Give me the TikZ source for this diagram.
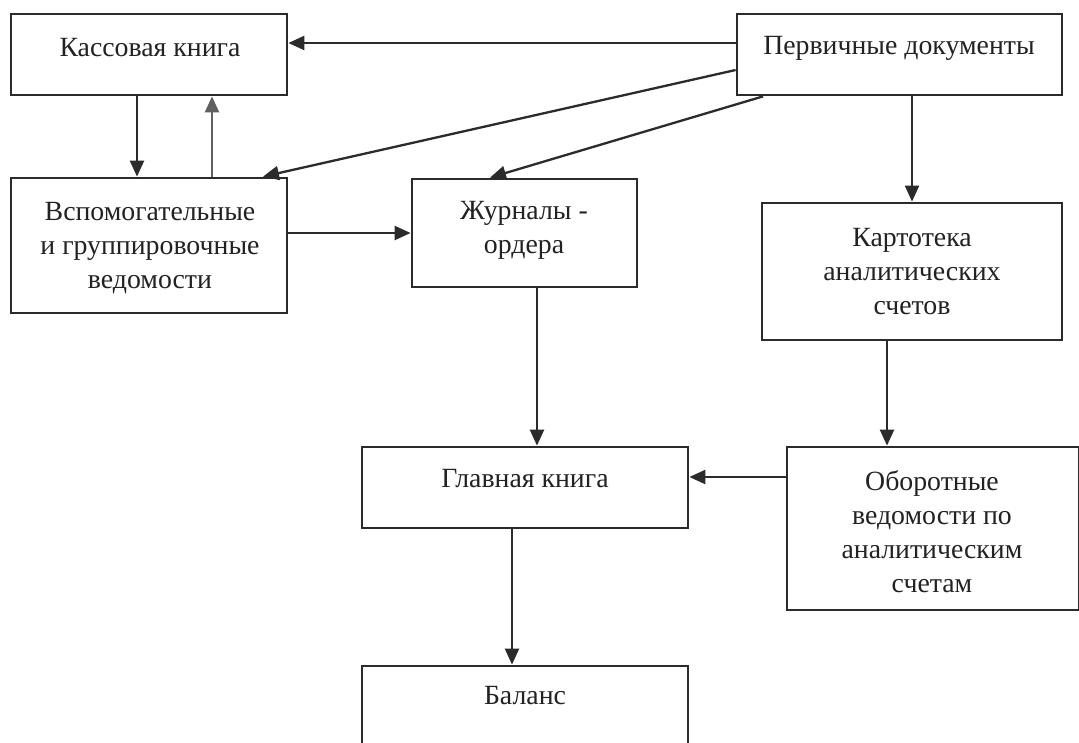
\documentclass[tikz,border=0pt]{standalone}
\usepackage{fontspec}
\setmainfont{Liberation Serif}
\usetikzlibrary{arrows.meta}
\definecolor{ln}{HTML}{2B2B2B}
\definecolor{tx}{HTML}{222222}
\begin{document}
\begin{tikzpicture}[x=1pt,y=-1pt,
  box/.style={draw=ln, line width=2.8pt, fill=none, inner sep=0pt},
  txt/.style={text=tx, align=center, inner sep=0pt, font=\fontsize{27.8}{34}\selectfont},
  arr/.style={draw=ln, line width=2.3pt, -{Triangle[length=16pt,width=14pt]}},
  arrlight/.style={draw=ln!75, line width=2.3pt, -{Triangle[length=16pt,width=14pt]}}]
\useasboundingbox (0,0) rectangle (1079,742);
\fill[white] (0,0) rectangle (1079,742);
% boxes
\node[box, minimum width=276pt, minimum height=81pt] (kass) at (149,54.5) {};
\node[box, minimum width=325pt, minimum height=81pt] (perv) at (899.5,54.5) {};
\node[box, minimum width=276pt, minimum height=135pt] (vsp) at (149,245.5) {};
\node[box, minimum width=225pt, minimum height=108pt] (zhur) at (524.5,233) {};
\node[box, minimum width=300pt, minimum height=137pt] (kart) at (912,271.5) {};
\node[box, minimum width=326pt, minimum height=81pt] (glav) at (525,487.5) {};
\node[box, minimum width=292pt, minimum height=163pt] (obor) at (933,528.5) {};
\node[box, minimum width=326pt, minimum height=104pt] (bal) at (525,718) {};
% texts
\node[txt] (kasst) at (150,48) {Кассовая книга};
\node[txt] (pervt) at (899,48) {Первичные документы};
\node[txt] (vspt) at (150,248) {Вспомогательные\\и группировочные\\ведомости};
\node[txt] (zhurt) at (524,230) {Журналы -\\ордера};
\node[txt] (kartt) at (912,272) {Картотека\\аналитических\\счетов};
\node[txt] (glavt) at (525,479) {Главная книга};
\node[txt] (obort) at (932,532) {Оборотные\\ведомости по\\аналитическим\\счетам};
\node[txt] (balt) at (525,696) {Баланс};
% connectors
\draw[arr] (perv.west |- 0,43) -- (kass.east |- 0,43);
\draw[arr] (kass.south -| 137,0) -- (vsp.north -| 137,0);
\draw[arrlight] (vsp.north -| 212,0) -- (kass.south -| 212,0);
\draw[arr] (perv.west |- 0,70) -- (vsp.north -| 263,0);
\draw[arr] (perv.south -| 763,0) -- (zhur.north -| 490,0);
\draw[arr] (perv.south -| 912,0) -- (kart.north -| 912,0);
\draw[arr] (vsp.east |- 0,233) -- (zhur.west |- 0,233);
\draw[arr] (zhur.south -| 537,0) -- (glav.north -| 537,0);
\draw[arr] (kart.south -| 887,0) -- (obor.north -| 887,0);
\draw[arr] (obor.west |- 0,477) -- (glav.east |- 0,477);
\draw[arr] (glav.south -| 512,0) -- (bal.north -| 512,0);
\end{tikzpicture}
\end{document}
